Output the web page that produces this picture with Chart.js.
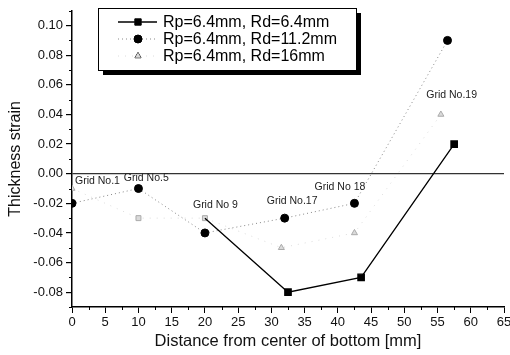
<!DOCTYPE html>
<html>
<head>
<meta charset="utf-8">
<script src="https://cdn.jsdelivr.net/npm/chart.js@4.4.0/dist/chart.umd.min.js"></script>
<style>
  html, body { margin: 0; padding: 0; background: #fff; }
  #wrap { width: 510px; height: 355px; position: relative; }
</style>
</head>
<body>
<div id="wrap"><canvas id="chart"></canvas></div>
<script>
// Thickness strain vs distance from bottom centre
const seriesNames = ['Rp=6.4mm, Rd=6.4mm', 'Rp=6.4mm, Rd=11.2mm', 'Rp=6.4mm, Rd=16mm'];

const rd64X = [20, 32.5, 43.5, 57.5];
const rd64Y = [-0.03, -0.08, -0.07, 0.02];

const rd112X = [0, 10, 20, 32, 42.5, 56.5];
const rd112Y = [-0.02, -0.01, -0.04, -0.03, -0.02, 0.09];

const rd16X = [0, 10, 20, 31.5, 42.5, 55.5];
const rd16Y = [-0.01, -0.03, -0.03, -0.05, -0.04, 0.04];

// grid point labels, anchored in data units (left edge, middle)
const gridLabels = ['Grid No.1', 'Grid No.5', 'Grid No 9', 'Grid No.17', 'Grid No 18', 'Grid No.19'];
const gridLabelX = [0.45, 7.8, 18.2, 29.3, 36.5, 53.3];
const gridLabelY = [-0.0047, -0.0027, -0.021, -0.0187, -0.0093, 0.0534];

const xTicks = [0, 5, 10, 15, 20, 25, 30, 35, 40, 45, 50, 55, 60, 65];
const yTicks = [-0.08, -0.06, -0.04, -0.02, 0.00, 0.02, 0.04, 0.06, 0.08, 0.10];

function toPoints(xs, ys) {
    return xs.map(function(x, i) { return { x: x, y: ys[i] }; });
}

const FONT = 'Arial, "Liberation Sans", sans-serif';

// minor ticks, grid labels, boxed legend
const extrasPlugin = {
    id: 'extras',
    afterDatasetsDraw: function(chart) {
        const ctx = chart.ctx;
        const xs = chart.scales.x, ys = chart.scales.y;
        const area = chart.chartArea;
        ctx.save();

        // minor ticks
        ctx.strokeStyle = '#000';
        ctx.lineWidth = 1;
        ctx.beginPath();
        for (let i = 0; i < xTicks.length - 1; i++) {
            const px = Math.round(xs.getPixelForValue((xTicks[i] + xTicks[i + 1]) / 2)) + 0.5;
            ctx.moveTo(px, area.bottom);
            ctx.lineTo(px, area.bottom + 3);
        }
        for (let v = -0.09; v <= 0.111; v += 0.02) {
            const py = Math.round(ys.getPixelForValue(v)) + 0.5;
            ctx.moveTo(area.left, py);
            ctx.lineTo(area.left - 3, py);
        }
        ctx.stroke();

        // grid point labels
        ctx.fillStyle = '#222';
        ctx.font = '10.5px ' + FONT;
        ctx.textAlign = 'left';
        ctx.textBaseline = 'middle';
        gridLabels.forEach(function(t, i) {
            ctx.fillText(t, xs.getPixelForValue(gridLabelX[i]), ys.getPixelForValue(gridLabelY[i]));
        });
        ctx.restore();
    },
    afterDraw: function(chart) {
        const ctx = chart.ctx;
        const left = 98, top = 8, w = 258, h = 62;
        ctx.save();
        ctx.fillStyle = '#000';
        ctx.fillRect(left + 5, top + 5, w, h);
        ctx.fillStyle = '#fff';
        ctx.fillRect(left, top, w, h);
        ctx.strokeStyle = '#000';
        ctx.lineWidth = 1;
        ctx.strokeRect(left + 0.5, top + 0.5, w, h);

        const rowY = [22, 39, 56];
        chart.data.datasets.forEach(function(ds, i) {
            const y = rowY[i];
            ctx.save();
            ctx.strokeStyle = ds.borderColor;
            ctx.lineWidth = ds.borderWidth;
            ctx.setLineDash(ds.borderDash || []);
            ctx.beginPath();
            ctx.moveTo(118, y);
            ctx.lineTo(157, y);
            ctx.stroke();
            ctx.restore();
            const style = Array.isArray(ds.pointStyle) ? ds.pointStyle[0] : ds.pointStyle;
            const r = Array.isArray(ds.pointRadius) ? ds.pointRadius[ds.pointRadius.length - 1] : ds.pointRadius;
            Chart.helpers.drawPoint(ctx, {
                pointStyle: style,
                radius: r,
                borderWidth: 1,
                rotation: 0
            }, 138, y);
            ctx.fillStyle = ds.pointBackgroundColor;
            ctx.strokeStyle = ds.pointBorderColor;
            ctx.fill();
            ctx.fillStyle = '#000';
            ctx.font = '16px ' + FONT;
            ctx.textAlign = 'left';
            ctx.textBaseline = 'middle';
            ctx.fillText(ds.label, 163, y + 1);
        });
        ctx.restore();
    }
};

new Chart(document.getElementById('chart'), {
    type: 'scatter',
    data: {
        datasets: [
            {
                label: seriesNames[0],
                data: toPoints(rd64X, rd64Y),
                showLine: true,
                borderColor: '#000',
                borderWidth: 1.3,
                pointStyle: 'rect',
                pointRadius: [0, 4.5, 4.5, 4.5],
                pointBackgroundColor: '#000',
                pointBorderColor: '#000'
            },
            {
                label: seriesNames[1],
                data: toPoints(rd112X, rd112Y),
                showLine: true,
                borderColor: '#888',
                borderWidth: 1,
                borderDash: [1, 3],
                pointStyle: 'circle',
                pointRadius: 4,
                pointBackgroundColor: '#000',
                pointBorderColor: '#000'
            },
            {
                label: seriesNames[2],
                data: toPoints(rd16X, rd16Y),
                showLine: true,
                borderColor: '#dcdcdc',
                borderWidth: 1,
                borderDash: [1, 6],
                pointStyle: ['triangle', 'rect', 'rect', 'triangle', 'triangle', 'triangle'],
                pointRadius: 3.5,
                pointBackgroundColor: '#dadada',
                pointBorderColor: '#aaa'
            }
        ]
    },
    options: {
        responsive: true,
        maintainAspectRatio: false,
        animation: false,
        layout: { padding: { left: 6, right: 0, top: 8, bottom: 4 } },
        plugins: {
            legend: { display: false },
            tooltip: { enabled: false }
        },
        scales: {
            x: {
                type: 'linear',
                min: 0,
                max: 65,
                afterBuildTicks: function(axis) {
                    axis.ticks = xTicks.map(function(v) { return { value: v }; });
                },
                afterFit: function(axis) {
                    axis.height = 44;
                    axis.paddingRight = 6;
                },
                ticks: {
                    color: '#111',
                    font: { family: FONT, size: 13 },
                    maxRotation: 0,
                    padding: 2,
                    callback: function(v) { return String(v); }
                },
                grid: {
                    drawOnChartArea: false,
                    tickLength: 6,
                    tickColor: '#000'
                },
                border: { color: '#000', width: 1.5 },
                title: {
                    display: true,
                    text: 'Distance from center of bottom [mm]',
                    color: '#111',
                    font: { family: FONT, size: 16.5 },
                    padding: { top: 0, bottom: 0 }
                }
            },
            y: {
                type: 'linear',
                min: -0.09,
                max: 0.11,
                afterBuildTicks: function(axis) {
                    axis.ticks = yTicks.map(function(v) { return { value: v }; });
                },
                afterFit: function(axis) { axis.width = 66; },
                ticks: {
                    color: '#111',
                    font: { family: FONT, size: 13 },
                    padding: 3,
                    callback: function(v) { return Number(v).toFixed(2); }
                },
                grid: {
                    drawOnChartArea: true,
                    tickLength: 6,
                    tickColor: '#000',
                    color: function(c) {
                        return c.tick && Math.abs(c.tick.value) < 1e-9 ? '#333' : 'rgba(0,0,0,0)';
                    },
                    lineWidth: 1.2
                },
                border: { color: '#000', width: 1.5 },
                title: {
                    display: true,
                    text: 'Thickness strain',
                    color: '#111',
                    font: { family: FONT, size: 16 },
                    padding: { top: 0, bottom: 4 }
                }
            }
        }
    },
    plugins: [extrasPlugin]
});
</script>
</body>
</html>
